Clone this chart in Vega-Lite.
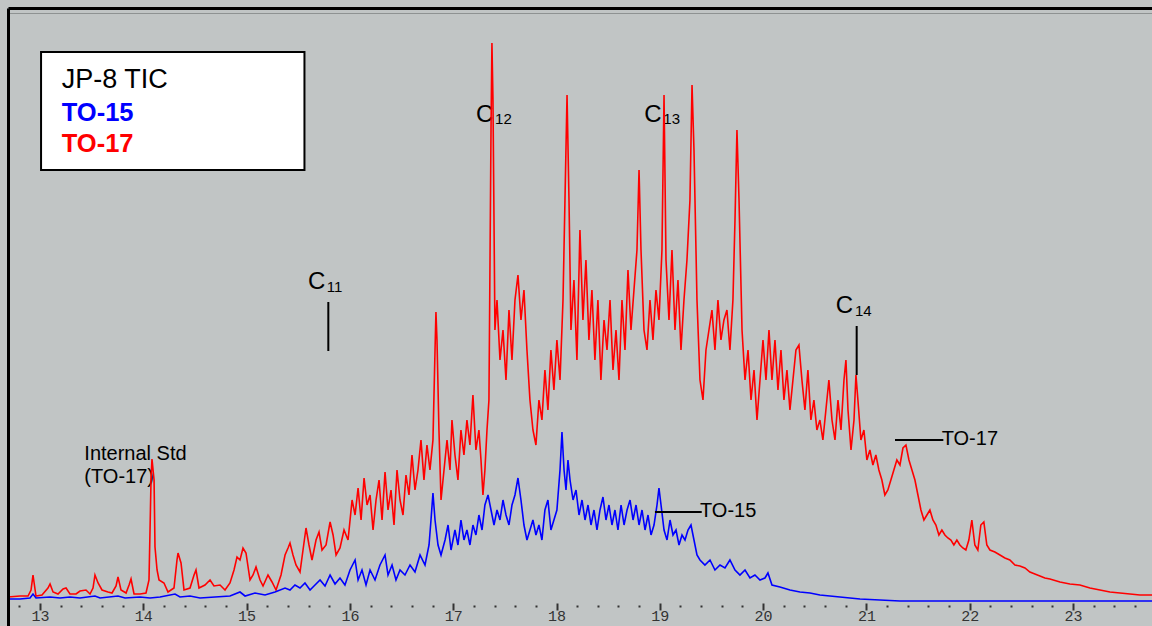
{
 "$schema": "https://vega.github.io/schema/vega-lite/v6.json",
 "width": 1144,
 "height": 618,
 "autosize": {"type": "none"},
 "padding": {"left": 8, "top": 8, "right": 0, "bottom": 0},
 "background": "#c1c5c5",
 "config": {"view": {"stroke": null, "fill": "#c1c5c5"}, "font": "Liberation Sans"},
 "datasets": {
  "red": [
   {"t":12.690,"v":5},{"t":12.806,"v":6},{"t":12.884,"v":6},{"t":12.913,"v":12},{"t":12.932,"v":27},{"t":12.961,"v":6},{"t":13.019,"v":7},{"t":13.077,"v":14},{"t":13.097,"v":18},{"t":13.126,"v":10},{"t":13.174,"v":8},{"t":13.223,"v":13},{"t":13.252,"v":14},{"t":13.290,"v":8},{"t":13.349,"v":8},{"t":13.387,"v":11},{"t":13.445,"v":12},{"t":13.484,"v":8},{"t":13.513,"v":14},{"t":13.532,"v":27},{"t":13.562,"v":19},{"t":13.600,"v":12},{"t":13.658,"v":10},{"t":13.697,"v":9},{"t":13.736,"v":16},{"t":13.755,"v":25},{"t":13.784,"v":12},{"t":13.833,"v":9},{"t":13.862,"v":17},{"t":13.881,"v":23},{"t":13.910,"v":8},{"t":13.968,"v":8},{"t":14.026,"v":9},{"t":14.055,"v":22},{"t":14.065,"v":72},{"t":14.075,"v":124},{"t":14.084,"v":143},{"t":14.104,"v":122},{"t":14.113,"v":55},{"t":14.133,"v":32},{"t":14.152,"v":22},{"t":14.200,"v":19},{"t":14.239,"v":10},{"t":14.297,"v":14},{"t":14.326,"v":42},{"t":14.336,"v":49},{"t":14.365,"v":39},{"t":14.394,"v":12},{"t":14.452,"v":14},{"t":14.491,"v":27},{"t":14.510,"v":32},{"t":14.539,"v":14},{"t":14.597,"v":17},{"t":14.646,"v":22},{"t":14.684,"v":16},{"t":14.743,"v":17},{"t":14.791,"v":12},{"t":14.839,"v":19},{"t":14.878,"v":32},{"t":14.907,"v":45},{"t":14.936,"v":42},{"t":14.965,"v":54},{"t":14.994,"v":49},{"t":15.033,"v":22},{"t":15.062,"v":27},{"t":15.091,"v":35},{"t":15.130,"v":22},{"t":15.159,"v":16},{"t":15.207,"v":27},{"t":15.246,"v":20},{"t":15.285,"v":12},{"t":15.333,"v":27},{"t":15.372,"v":47},{"t":15.401,"v":54},{"t":15.420,"v":59},{"t":15.449,"v":47},{"t":15.478,"v":37},{"t":15.517,"v":30},{"t":15.546,"v":52},{"t":15.575,"v":74},{"t":15.604,"v":57},{"t":15.633,"v":42},{"t":15.672,"v":62},{"t":15.701,"v":70},{"t":15.730,"v":52},{"t":15.769,"v":57},{"t":15.808,"v":80},{"t":15.837,"v":67},{"t":15.866,"v":47},{"t":15.904,"v":54},{"t":15.943,"v":72},{"t":15.982,"v":62},{"t":16.021,"v":102},{"t":16.050,"v":87},{"t":16.079,"v":114},{"t":16.108,"v":82},{"t":16.137,"v":124},{"t":16.166,"v":97},{"t":16.195,"v":107},{"t":16.224,"v":72},{"t":16.253,"v":102},{"t":16.282,"v":122},{"t":16.311,"v":82},{"t":16.340,"v":130},{"t":16.369,"v":92},{"t":16.398,"v":112},{"t":16.427,"v":77},{"t":16.456,"v":132},{"t":16.485,"v":102},{"t":16.514,"v":87},{"t":16.543,"v":127},{"t":16.572,"v":107},{"t":16.601,"v":147},{"t":16.630,"v":112},{"t":16.659,"v":132},{"t":16.688,"v":162},{"t":16.717,"v":122},{"t":16.746,"v":157},{"t":16.775,"v":132},{"t":16.804,"v":162},{"t":16.824,"v":252},{"t":16.833,"v":290},{"t":16.843,"v":262},{"t":16.862,"v":172},{"t":16.882,"v":102},{"t":16.911,"v":132},{"t":16.940,"v":162},{"t":16.969,"v":132},{"t":16.988,"v":182},{"t":17.017,"v":147},{"t":17.046,"v":122},{"t":17.075,"v":172},{"t":17.104,"v":147},{"t":17.133,"v":182},{"t":17.162,"v":157},{"t":17.191,"v":207},{"t":17.220,"v":152},{"t":17.249,"v":172},{"t":17.269,"v":142},{"t":17.288,"v":107},{"t":17.307,"v":132},{"t":17.327,"v":172},{"t":17.346,"v":202},{"t":17.366,"v":472},{"t":17.375,"v":559},{"t":17.385,"v":502},{"t":17.404,"v":272},{"t":17.424,"v":302},{"t":17.453,"v":242},{"t":17.482,"v":272},{"t":17.511,"v":222},{"t":17.540,"v":292},{"t":17.569,"v":242},{"t":17.598,"v":302},{"t":17.627,"v":327},{"t":17.656,"v":282},{"t":17.685,"v":312},{"t":17.714,"v":252},{"t":17.743,"v":202},{"t":17.772,"v":172},{"t":17.801,"v":157},{"t":17.830,"v":202},{"t":17.859,"v":182},{"t":17.888,"v":232},{"t":17.917,"v":192},{"t":17.946,"v":252},{"t":17.975,"v":212},{"t":18.004,"v":262},{"t":18.034,"v":222},{"t":18.063,"v":302},{"t":18.082,"v":402},{"t":18.102,"v":507},{"t":18.121,"v":402},{"t":18.140,"v":272},{"t":18.169,"v":322},{"t":18.198,"v":242},{"t":18.227,"v":372},{"t":18.256,"v":282},{"t":18.285,"v":342},{"t":18.314,"v":262},{"t":18.343,"v":312},{"t":18.372,"v":242},{"t":18.401,"v":302},{"t":18.430,"v":222},{"t":18.460,"v":282},{"t":18.489,"v":252},{"t":18.518,"v":302},{"t":18.547,"v":232},{"t":18.576,"v":272},{"t":18.605,"v":222},{"t":18.634,"v":302},{"t":18.663,"v":252},{"t":18.692,"v":332},{"t":18.721,"v":272},{"t":18.750,"v":312},{"t":18.779,"v":352},{"t":18.799,"v":432},{"t":18.818,"v":352},{"t":18.847,"v":272},{"t":18.876,"v":252},{"t":18.905,"v":302},{"t":18.934,"v":262},{"t":18.963,"v":312},{"t":18.992,"v":282},{"t":19.021,"v":352},{"t":19.041,"v":507},{"t":19.060,"v":342},{"t":19.089,"v":282},{"t":19.118,"v":352},{"t":19.147,"v":272},{"t":19.176,"v":322},{"t":19.205,"v":252},{"t":19.234,"v":302},{"t":19.263,"v":342},{"t":19.292,"v":402},{"t":19.312,"v":517},{"t":19.331,"v":452},{"t":19.360,"v":302},{"t":19.389,"v":222},{"t":19.418,"v":202},{"t":19.447,"v":252},{"t":19.476,"v":272},{"t":19.505,"v":292},{"t":19.534,"v":252},{"t":19.563,"v":302},{"t":19.592,"v":262},{"t":19.621,"v":282},{"t":19.650,"v":292},{"t":19.679,"v":252},{"t":19.708,"v":302},{"t":19.728,"v":382},{"t":19.747,"v":472},{"t":19.767,"v":402},{"t":19.796,"v":272},{"t":19.825,"v":222},{"t":19.854,"v":252},{"t":19.883,"v":202},{"t":19.912,"v":232},{"t":19.941,"v":182},{"t":19.970,"v":222},{"t":19.999,"v":262},{"t":20.028,"v":222},{"t":20.057,"v":272},{"t":20.086,"v":222},{"t":20.115,"v":262},{"t":20.144,"v":212},{"t":20.173,"v":252},{"t":20.202,"v":202},{"t":20.231,"v":232},{"t":20.260,"v":192},{"t":20.289,"v":222},{"t":20.318,"v":252},{"t":20.347,"v":257},{"t":20.376,"v":222},{"t":20.405,"v":192},{"t":20.434,"v":232},{"t":20.463,"v":182},{"t":20.492,"v":202},{"t":20.521,"v":172},{"t":20.550,"v":182},{"t":20.579,"v":162},{"t":20.608,"v":192},{"t":20.637,"v":222},{"t":20.667,"v":182},{"t":20.696,"v":162},{"t":20.725,"v":202},{"t":20.754,"v":172},{"t":20.783,"v":222},{"t":20.802,"v":242},{"t":20.822,"v":192},{"t":20.851,"v":152},{"t":20.880,"v":182},{"t":20.899,"v":227},{"t":20.918,"v":202},{"t":20.947,"v":162},{"t":20.976,"v":172},{"t":21.005,"v":142},{"t":21.034,"v":152},{"t":21.063,"v":137},{"t":21.092,"v":147},{"t":21.121,"v":132},{"t":21.150,"v":122},{"t":21.179,"v":107},{"t":21.208,"v":112},{"t":21.237,"v":122},{"t":21.266,"v":132},{"t":21.295,"v":142},{"t":21.325,"v":137},{"t":21.354,"v":154},{"t":21.383,"v":157},{"t":21.412,"v":142},{"t":21.441,"v":132},{"t":21.470,"v":122},{"t":21.499,"v":107},{"t":21.528,"v":92},{"t":21.557,"v":82},{"t":21.586,"v":87},{"t":21.615,"v":92},{"t":21.644,"v":82},{"t":21.673,"v":77},{"t":21.702,"v":67},{"t":21.731,"v":72},{"t":21.760,"v":67},{"t":21.789,"v":64},{"t":21.818,"v":62},{"t":21.847,"v":57},{"t":21.876,"v":62},{"t":21.905,"v":57},{"t":21.934,"v":54},{"t":21.963,"v":52},{"t":21.992,"v":62},{"t":22.021,"v":82},{"t":22.050,"v":57},{"t":22.079,"v":52},{"t":22.108,"v":77},{"t":22.137,"v":80},{"t":22.166,"v":57},{"t":22.196,"v":52},{"t":22.244,"v":50},{"t":22.293,"v":47},{"t":22.341,"v":44},{"t":22.389,"v":42},{"t":22.438,"v":37},{"t":22.486,"v":36},{"t":22.535,"v":34},{"t":22.583,"v":30},{"t":22.631,"v":28},{"t":22.680,"v":26},{"t":22.728,"v":24},{"t":22.777,"v":23},{"t":22.874,"v":20},{"t":22.970,"v":18},{"t":23.067,"v":17},{"t":23.164,"v":14},{"t":23.261,"v":12},{"t":23.358,"v":10},{"t":23.455,"v":9},{"t":23.552,"v":8},{"t":23.648,"v":7},{"t":23.765,"v":7}
  ],
  "blue": [
   {"t":12.690,"v":3},{"t":12.806,"v":3},{"t":12.903,"v":4},{"t":12.932,"v":8},{"t":12.961,"v":4},{"t":13.097,"v":5},{"t":13.194,"v":4},{"t":13.290,"v":5},{"t":13.387,"v":4},{"t":13.532,"v":6},{"t":13.581,"v":4},{"t":13.755,"v":6},{"t":13.823,"v":4},{"t":13.968,"v":5},{"t":14.065,"v":4},{"t":14.162,"v":5},{"t":14.307,"v":8},{"t":14.355,"v":5},{"t":14.452,"v":6},{"t":14.549,"v":4},{"t":14.694,"v":5},{"t":14.839,"v":6},{"t":14.936,"v":10},{"t":14.985,"v":6},{"t":15.081,"v":9},{"t":15.178,"v":7},{"t":15.275,"v":10},{"t":15.372,"v":14},{"t":15.420,"v":12},{"t":15.468,"v":17},{"t":15.517,"v":14},{"t":15.565,"v":19},{"t":15.614,"v":12},{"t":15.662,"v":17},{"t":15.711,"v":22},{"t":15.759,"v":16},{"t":15.808,"v":27},{"t":15.856,"v":18},{"t":15.904,"v":24},{"t":15.952,"v":17},{"t":16.001,"v":32},{"t":16.050,"v":42},{"t":16.079,"v":22},{"t":16.117,"v":32},{"t":16.156,"v":17},{"t":16.195,"v":32},{"t":16.243,"v":22},{"t":16.291,"v":37},{"t":16.340,"v":47},{"t":16.369,"v":27},{"t":16.408,"v":37},{"t":16.446,"v":22},{"t":16.485,"v":32},{"t":16.533,"v":27},{"t":16.582,"v":37},{"t":16.630,"v":30},{"t":16.679,"v":47},{"t":16.727,"v":37},{"t":16.766,"v":57},{"t":16.785,"v":82},{"t":16.804,"v":109},{"t":16.824,"v":82},{"t":16.853,"v":57},{"t":16.882,"v":47},{"t":16.921,"v":62},{"t":16.950,"v":77},{"t":16.979,"v":52},{"t":17.017,"v":72},{"t":17.046,"v":57},{"t":17.075,"v":82},{"t":17.104,"v":62},{"t":17.133,"v":72},{"t":17.162,"v":57},{"t":17.191,"v":77},{"t":17.220,"v":67},{"t":17.249,"v":87},{"t":17.279,"v":72},{"t":17.307,"v":97},{"t":17.337,"v":107},{"t":17.366,"v":92},{"t":17.395,"v":77},{"t":17.424,"v":92},{"t":17.453,"v":82},{"t":17.482,"v":102},{"t":17.511,"v":87},{"t":17.540,"v":77},{"t":17.569,"v":97},{"t":17.598,"v":107},{"t":17.627,"v":124},{"t":17.656,"v":102},{"t":17.685,"v":77},{"t":17.714,"v":62},{"t":17.743,"v":72},{"t":17.772,"v":82},{"t":17.801,"v":67},{"t":17.830,"v":77},{"t":17.859,"v":62},{"t":17.888,"v":92},{"t":17.917,"v":102},{"t":17.946,"v":72},{"t":17.975,"v":82},{"t":18.004,"v":92},{"t":18.034,"v":132},{"t":18.053,"v":170},{"t":18.073,"v":132},{"t":18.092,"v":112},{"t":18.111,"v":142},{"t":18.131,"v":122},{"t":18.160,"v":102},{"t":18.189,"v":112},{"t":18.218,"v":87},{"t":18.247,"v":102},{"t":18.276,"v":82},{"t":18.305,"v":97},{"t":18.334,"v":77},{"t":18.363,"v":92},{"t":18.392,"v":72},{"t":18.421,"v":92},{"t":18.450,"v":105},{"t":18.479,"v":82},{"t":18.508,"v":97},{"t":18.537,"v":77},{"t":18.566,"v":92},{"t":18.595,"v":72},{"t":18.625,"v":97},{"t":18.654,"v":77},{"t":18.683,"v":92},{"t":18.712,"v":102},{"t":18.741,"v":82},{"t":18.770,"v":97},{"t":18.799,"v":77},{"t":18.828,"v":92},{"t":18.857,"v":72},{"t":18.886,"v":87},{"t":18.915,"v":67},{"t":18.944,"v":77},{"t":18.973,"v":97},{"t":18.992,"v":114},{"t":19.012,"v":97},{"t":19.041,"v":72},{"t":19.070,"v":62},{"t":19.099,"v":82},{"t":19.128,"v":67},{"t":19.157,"v":72},{"t":19.186,"v":57},{"t":19.215,"v":67},{"t":19.244,"v":62},{"t":19.273,"v":72},{"t":19.302,"v":77},{"t":19.331,"v":62},{"t":19.360,"v":47},{"t":19.389,"v":42},{"t":19.437,"v":37},{"t":19.486,"v":42},{"t":19.534,"v":32},{"t":19.583,"v":37},{"t":19.631,"v":34},{"t":19.679,"v":42},{"t":19.728,"v":32},{"t":19.776,"v":27},{"t":19.825,"v":32},{"t":19.873,"v":24},{"t":19.921,"v":27},{"t":19.970,"v":22},{"t":20.018,"v":24},{"t":20.047,"v":29},{"t":20.086,"v":17},{"t":20.163,"v":15},{"t":20.260,"v":12},{"t":20.357,"v":10},{"t":20.454,"v":9},{"t":20.550,"v":7},{"t":20.647,"v":6},{"t":20.744,"v":5},{"t":20.841,"v":4},{"t":20.938,"v":3},{"t":21.131,"v":2},{"t":21.325,"v":1},{"t":22.293,"v":1},{"t":23.765,"v":1}
  ]
 },
 "resolve": {"axis": {"x": "independent", "y": "independent"}},
 "layer": [
  {
   "data": {"values": [{"t0": 13.01, "t1": 15.56, "v0": 432, "v1": 550}]},
   "mark": {"type": "rect", "fill": "#ffffff", "stroke": "#000000", "strokeWidth": 2},
   "encoding": {
    "x": {"field": "t0", "type": "quantitative", "scale": {"domain": [12.69, 23.765], "nice": false, "zero": false},
          "axis": {"orient": "top", "domain": true, "domainColor": "#000000", "domainWidth": 3, "ticks": false, "labels": false, "grid": false, "title": null, "zindex": 1}},
    "x2": {"field": "t1"},
    "y": {"field": "v0", "type": "quantitative", "scale": {"domain": [-24, 594], "nice": false, "zero": false},
          "axis": {"orient": "left", "domain": true, "domainColor": "#000000", "domainWidth": 3, "ticks": false, "labels": false, "grid": true, "values": [589], "gridColor": "#8e9292", "gridWidth": 1.2, "title": null, "zindex": 1}},
    "y2": {"field": "v1"}
   }
  },
  {
   "data": {"values": [{"label": "C", "t": 15.594, "v": 313}, {"label": "C", "t": 17.221, "v": 480}, {"label": "C", "t": 18.850, "v": 480}, {"label": "C", "t": 20.703, "v": 289}]},
   "mark": {"type": "text", "align": "left", "baseline": "alphabetic", "fontSize": 24, "color": "#000000"},
   "encoding": {
    "x": {"field": "t", "type": "quantitative", "scale": {"domain": [12.69, 23.765], "nice": false, "zero": false}, "axis": null},
    "y": {"field": "v", "type": "quantitative", "scale": {"domain": [-24, 594], "nice": false, "zero": false}, "axis": null},
    "text": {"field": "label"}
   }
  },
  {
   "data": {"values": [{"label": "11", "t": 15.775, "v": 310}, {"label": "12", "t": 17.405, "v": 478}, {"label": "13", "t": 19.034, "v": 478}, {"label": "14", "t": 20.890, "v": 286}]},
   "mark": {"type": "text", "align": "left", "baseline": "alphabetic", "fontSize": 15, "color": "#000000"},
   "encoding": {
    "x": {"field": "t", "type": "quantitative", "scale": {"domain": [12.69, 23.765], "nice": false, "zero": false}, "axis": null},
    "y": {"field": "v", "type": "quantitative", "scale": {"domain": [-24, 594], "nice": false, "zero": false}, "axis": null},
    "text": {"field": "label"}
   }
  },
  {
   "data": {"values": [{"label": "Internal Std", "t": 13.429, "v": 142}, {"label": "(TO-17)", "t": 13.429, "v": 119}, {"label": "TO-15", "t": 19.389, "v": 85}, {"label": "TO-17", "t": 21.729, "v": 157}]},
   "mark": {"type": "text", "align": "left", "baseline": "alphabetic", "fontSize": 20, "color": "#000000"},
   "encoding": {
    "x": {"field": "t", "type": "quantitative", "scale": {"domain": [12.69, 23.765], "nice": false, "zero": false}, "axis": null},
    "y": {"field": "v", "type": "quantitative", "scale": {"domain": [-24, 594], "nice": false, "zero": false}, "axis": null},
    "text": {"field": "label"}
   }
  },
  {
   "data": {"values": [{"label": "JP-8 TIC", "t": 13.21, "v": 514}]},
   "mark": {"type": "text", "align": "left", "baseline": "alphabetic", "fontSize": 27, "color": "#000000"},
   "encoding": {
    "x": {"field": "t", "type": "quantitative", "scale": {"domain": [12.69, 23.765], "nice": false, "zero": false}, "axis": null},
    "y": {"field": "v", "type": "quantitative", "scale": {"domain": [-24, 594], "nice": false, "zero": false}, "axis": null},
    "text": {"field": "label"}
   }
  },
  {
   "data": {"values": [{"label": "TO-15", "t": 13.21, "v": 481}, {"label": "TO-17", "t": 13.21, "v": 450}]},
   "mark": {"type": "text", "align": "left", "baseline": "alphabetic", "fontSize": 25.5, "fontWeight": "bold"},
   "encoding": {
    "x": {"field": "t", "type": "quantitative", "scale": {"domain": [12.69, 23.765], "nice": false, "zero": false}, "axis": null},
    "y": {"field": "v", "type": "quantitative", "scale": {"domain": [-24, 594], "nice": false, "zero": false}, "axis": null},
    "text": {"field": "label"},
    "color": {"field": "label", "type": "nominal", "scale": {"domain": ["TO-15", "TO-17"], "range": ["#0000ff", "#ff0000"]}, "legend": null}
   }
  },
  {
   "data": {"name": "red"},
   "mark": {"type": "line", "color": "#ff0000", "strokeWidth": 1.6, "clip": true},
   "encoding": {
    "x": {"field": "t", "type": "quantitative", "scale": {"domain": [12.69, 23.765], "nice": false, "zero": false},
          "axis": {"orient": "bottom", "offset": -23, "values": [12.8,13,13.2,13.4,13.6,13.8,14,14.2,14.4,14.6,14.8,15,15.2,15.4,15.6,15.8,16,16.2,16.4,16.6,16.8,17,17.2,17.4,17.6,17.8,18,18.2,18.4,18.6,18.8,19,19.2,19.4,19.6,19.8,20,20.2,20.4,20.6,20.8,21,21.2,21.4,21.6,21.8,22,22.2,22.4,22.6,22.8,23,23.2,23.4,23.6],
                   "domain": false, "grid": false, "ticks": true, "tickSize": 7, "tickWidth": 2, "tickColor": "#333333",
                   "tickDash": {"condition": {"test": "abs(datum.value - round(datum.value)) > 0.01", "value": [0, 2, 2, 20]}, "value": []},
                   "labelExpr": "abs(datum.value - round(datum.value)) < 0.01 ? '' + round(datum.value) : ''",
                   "labelFont": "Liberation Mono", "labelFontSize": 15, "labelColor": "#333333", "labelBaseline": "alphabetic", "labelPadding": 10.5,
                   "labelFlush": false, "labelOverlap": false, "title": null}},
    "y": {"field": "v", "type": "quantitative", "scale": {"domain": [-24, 594], "nice": false, "zero": false}, "axis": null}
   }
  },
  {
   "data": {"name": "blue"},
   "mark": {"type": "line", "color": "#0000ff", "strokeWidth": 1.6, "clip": true},
   "encoding": {
    "x": {"field": "t", "type": "quantitative", "scale": {"domain": [12.69, 23.765], "nice": false, "zero": false}, "axis": null},
    "y": {"field": "v", "type": "quantitative", "scale": {"domain": [-24, 594], "nice": false, "zero": false}, "axis": null}
   }
  },
  {
   "data": {"values": [{"t0": 15.791, "t1": 15.791, "v0": 251, "v1": 300}, {"t0": 20.906, "t1": 20.906, "v0": 227, "v1": 276}, {"t0": 18.953, "t1": 19.406, "v0": 90, "v1": 90}, {"t0": 21.277, "t1": 21.745, "v0": 162, "v1": 162}]},
   "mark": {"type": "rule", "color": "#000000", "strokeWidth": 2},
   "encoding": {
    "x": {"field": "t0", "type": "quantitative", "scale": {"domain": [12.69, 23.765], "nice": false, "zero": false}, "axis": null},
    "x2": {"field": "t1"},
    "y": {"field": "v0", "type": "quantitative", "scale": {"domain": [-24, 594], "nice": false, "zero": false}, "axis": null},
    "y2": {"field": "v1"}
   }
  }
 ]
}
